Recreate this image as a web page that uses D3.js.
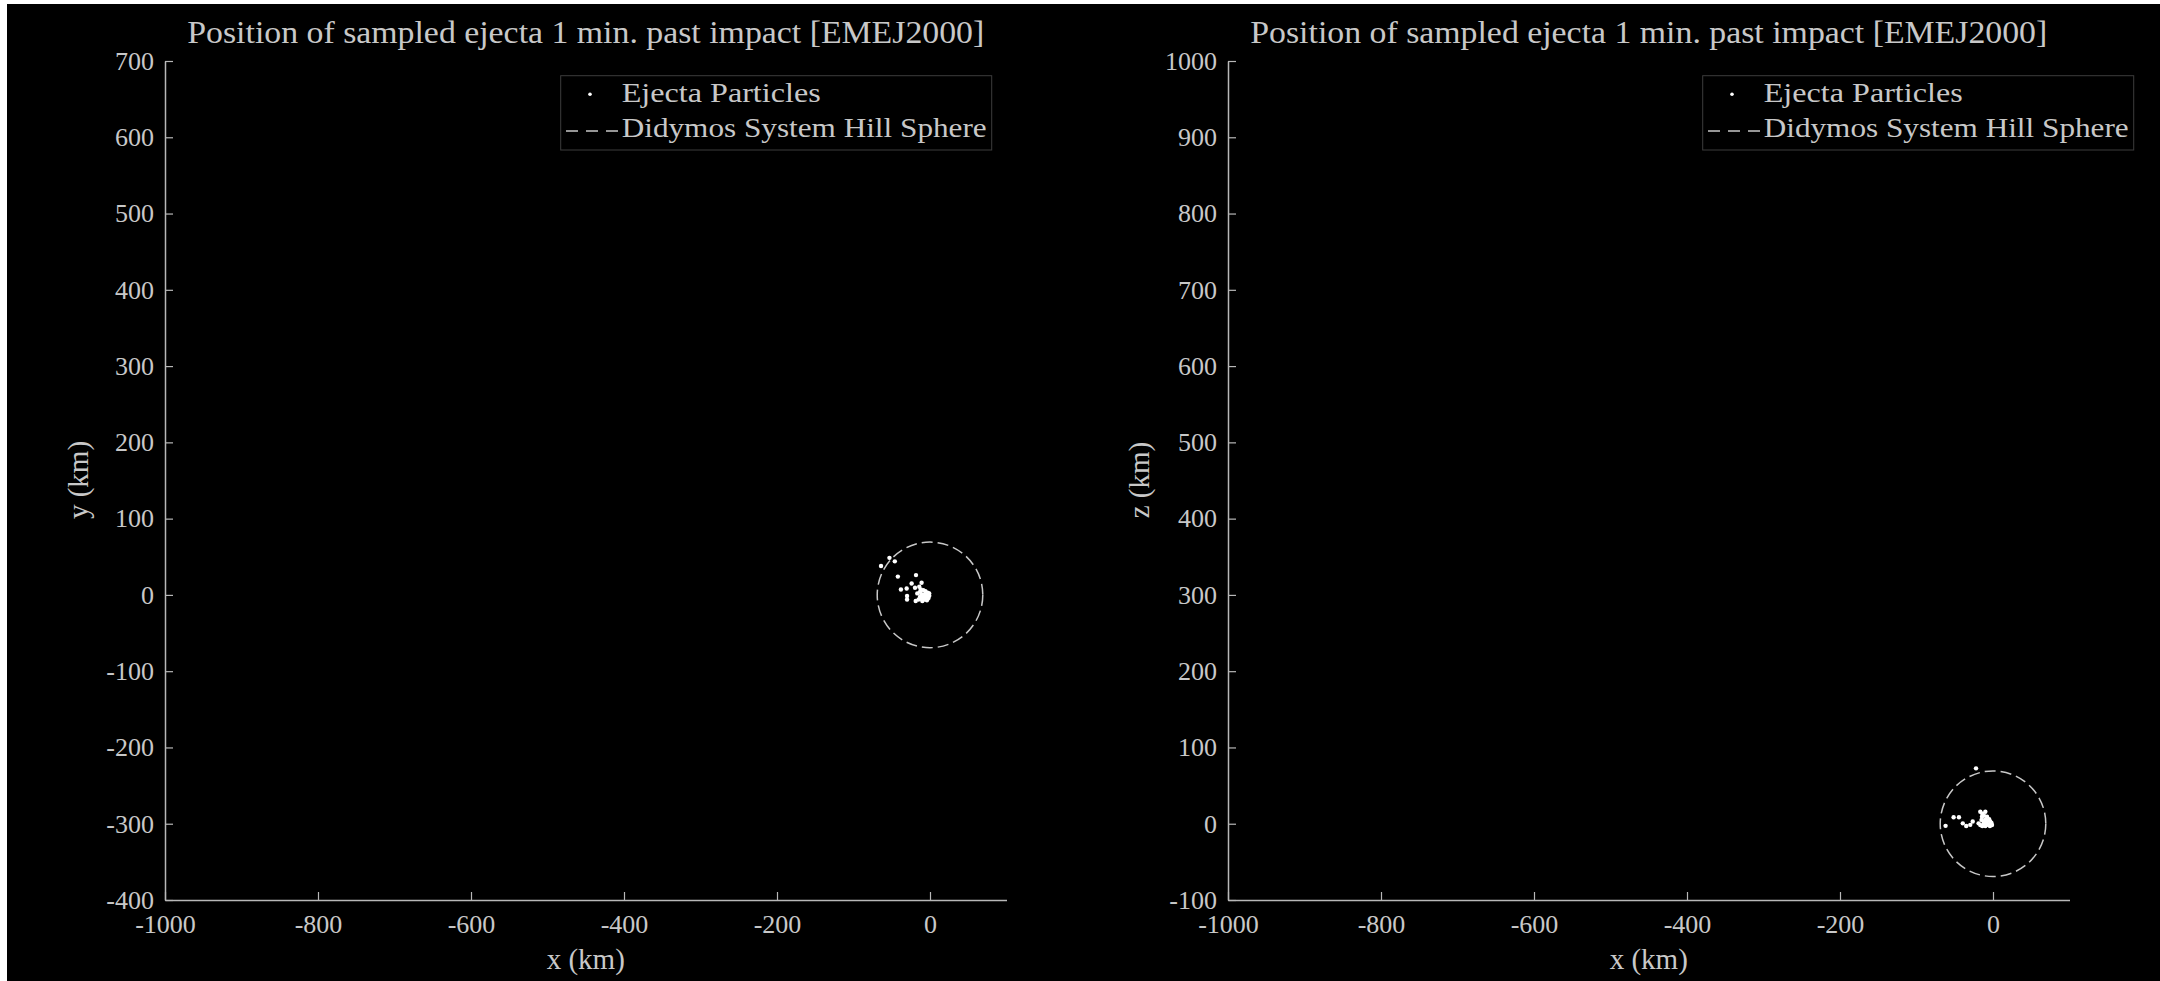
<!DOCTYPE html>
<html>
<head>
<meta charset="utf-8">
<script src="https://cdn.jsdelivr.net/npm/d3@7"></script>
<style>
  body { margin: 0; background: #ffffff; }
  svg { display: block; }
  text { font-family: "Liberation Serif", "DejaVu Serif", serif; fill: #c8c8c8; }
</style>
</head>
<body>
<svg id="fig" width="2160" height="981"></svg>
<script>
// chart data
const titleText = "Position of sampled ejecta 1 min. past impact [EMEJ2000]";
const legendLabels = ["Ejecta Particles", "Didymos System Hill Sphere"];

const xTicks = [-1000, -800, -600, -400, -200, 0];
const yTicksXY = [-400, -300, -200, -100, 0, 100, 200, 300, 400, 500, 600, 700];
const zTicksXZ = [-100, 0, 100, 200, 300, 400, 500, 600, 700, 800, 900, 1000];

const hillRadiusKm = 69;

// ejecta seen in the x-y plane (km)
const ejectaX_xy = [-64, -53, -46, -42, -38, -30.5, -30, -30, -24, -18.3, -19.6, -18.7, -11,
  -14, -13, -8.7, -4.4, -1, -8.7, -13, -10.8, -5.2, -16.6, -11, -6, -3, -9, -7, -2, -12, -6, -15, -4, -10, -1];
const ejectaY_xy = [38, 48.6, 44, 24, 7, 8.5, -1.5, -6, 15, 26, 9.3, -8, 16,
  10.6, 4, 6.3, -0.3, -1, -2.5, -2.5, -5.5, -3.8, 2, 1, 2, 3, 0, -6, -4, 7, 5, -6, -7, -8, 2];

// ejecta seen in the x-z plane (km)
const ejectaX_xz = [-62, -51.5, -44.5, -39.5, -35, -29.7, -26.5, -22.2,
  -16.6, -14, -10, -12, -14.4, -7.8, -10, -15, -5, -3.5, -12.3, -8, -18.8, -16.6, -12, -8, -5.8, -1.3, -2, -10, -4, -14];
const ejectaZ_xz = [-2.8, 8.4, 8.4, 0.5, -3, -1.5, 3, 72.6,
  15.7, 13, 15.7, 11, 9.2, 9.2, 6, 5, 6, 2.6, 2.6, 3, 0.5, -1.7, -1, 0, -1.7, -1.7, 1, -3, -3, -3];

const svg = d3.select("#fig");

// black figure area
svg.append("rect")
  .attr("x", 7).attr("y", 4)
  .attr("width", 2153).attr("height", 977)
  .attr("fill", "#000");

const axisColor = "#b8b8b8";

function drawPanel(p) {
  const x = d3.scaleLinear().domain([-1000, 100]).range([p.left, p.left + 841.5]);
  const y = d3.scaleLinear().domain(p.yDomain).range([900, 61]);
  const g = svg.append("g");

  // axes
  const xAxis = g.append("g")
    .attr("transform", `translate(0,${y.range()[0]})`)
    .call(d3.axisBottom(x).tickValues(xTicks).tickFormat(d => String(d))
      .tickSizeInner(-8).tickSizeOuter(0).tickPadding(15));
  const yAxis = g.append("g")
    .attr("transform", `translate(${x.range()[0]},0)`)
    .call(d3.axisLeft(y).tickValues(p.yTicks).tickFormat(d => String(d))
      .tickSizeInner(-8).tickSizeOuter(0).tickPadding(11));

  [xAxis, yAxis].forEach(a => {
    a.select(".domain").attr("stroke", axisColor).attr("stroke-width", 1.5);
    a.selectAll(".tick line").attr("stroke", axisColor).attr("stroke-width", 1.2);
    a.selectAll(".tick text")
      .attr("fill", "#c8c8c8")
      .style("font-family", '"Liberation Serif", serif')
      .style("font-size", "26px");
  });

  // title + axis labels
  const cx = (x.range()[0] + x.range()[1]) / 2;
  g.append("text")
    .attr("x", cx).attr("y", 43)
    .attr("text-anchor", "middle")
    .attr("textLength", 797).attr("lengthAdjust", "spacingAndGlyphs")
    .style("font-size", "31px")
    .text(titleText);

  g.append("text")
    .attr("x", cx).attr("y", 969)
    .attr("text-anchor", "middle")
    .style("font-size", "29px")
    .text("x (km)");

  g.append("text")
    .attr("transform", `translate(${p.ylabelX},480) rotate(-90)`)
    .attr("text-anchor", "middle")
    .style("font-size", "29px")
    .text(p.ylabel);

  // hill sphere
  g.append("circle")
    .attr("cx", x(0)).attr("cy", y(0))
    .attr("r", x(hillRadiusKm) - x(0))
    .attr("fill", "none")
    .attr("stroke", "#c8c8c8")
    .attr("stroke-width", 1.5)
    .attr("stroke-dasharray", "11,5");

  // particles
  g.append("g").selectAll("circle")
    .data(d3.zip(p.px, p.py))
    .join("circle")
    .attr("cx", d => x(d[0]))
    .attr("cy", d => y(d[1]))
    .attr("r", 2.2)
    .attr("fill", "#fff");

  // legend
  const lg = g.append("g").attr("transform", `translate(${p.legendX},75.7)`);
  lg.append("rect")
    .attr("width", 431).attr("height", 74.3)
    .attr("fill", "#000")
    .attr("stroke", "#3c3c3c").attr("stroke-width", 1);
  lg.append("circle")
    .attr("cx", 29.3).attr("cy", 18.6).attr("r", 1.8).attr("fill", "#fff");
  lg.append("line")
    .attr("x1", 5.3).attr("x2", 57.3).attr("y1", 55.3).attr("y2", 55.3)
    .attr("stroke", "#c8c8c8").attr("stroke-width", 1.5)
    .attr("stroke-dasharray", "12,8");
  lg.append("text")
    .attr("x", 61).attr("y", 26.6)
    .attr("textLength", 199).attr("lengthAdjust", "spacingAndGlyphs")
    .style("font-size", "28px")
    .text(legendLabels[0]);
  lg.append("text")
    .attr("x", 61).attr("y", 61)
    .attr("textLength", 365).attr("lengthAdjust", "spacingAndGlyphs")
    .style("font-size", "28px")
    .text(legendLabels[1]);
}

drawPanel({
  left: 165, yDomain: [-400, 700], yTicks: yTicksXY,
  ylabel: "y (km)", ylabelX: 88,
  px: ejectaX_xy, py: ejectaY_xy,
  legendX: 560.7
});

drawPanel({
  left: 1228, yDomain: [-100, 1000], yTicks: zTicksXZ,
  ylabel: "z (km)", ylabelX: 1149,
  px: ejectaX_xz, py: ejectaZ_xz,
  legendX: 1702.7
});
</script>
</body>
</html>
